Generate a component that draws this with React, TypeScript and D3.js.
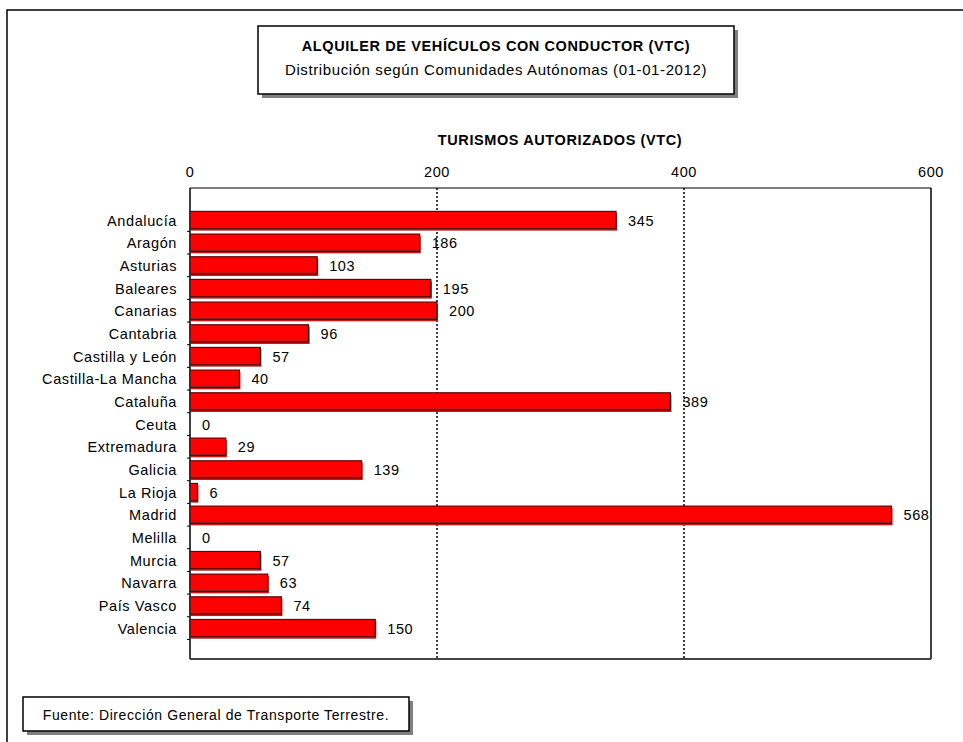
import React, { useRef, useEffect } from 'react';
import * as d3 from 'd3';

const regions = [
  'Andalucía', 'Aragón', 'Asturias', 'Baleares', 'Canarias', 'Cantabria',
  'Castilla y León', 'Castilla-La Mancha', 'Cataluña', 'Ceuta', 'Extremadura',
  'Galicia', 'La Rioja', 'Madrid', 'Melilla', 'Murcia', 'Navarra', 'País Vasco', 'Valencia',
];
const vehicles = [345, 186, 103, 195, 200, 96, 57, 40, 389, 0, 29, 139, 6, 568, 0, 57, 63, 74, 150];
const ticks = [0, 200, 400, 600];

const FONT = 'Liberation Sans, Arial, sans-serif';
const FS = 14.5;
const LS = 0.6;

const App: React.FC = () => {
  const svgRef = useRef<SVGSVGElement>(null);

  useEffect(() => {
    if (!svgRef.current) return;
    const svg = d3.select(svgRef.current);
    svg.selectAll('*').remove();

    const left = 190, right = 931, top = 188, bottom = 659;

    const txt = (xp: number, yp: number, s: string, anchor = 'middle', bold = false, size = FS) =>
      svg.append('text').attr('x', xp).attr('y', yp).attr('text-anchor', anchor)
        .attr('font-family', FONT).attr('font-size', size).attr('letter-spacing', LS)
        .attr('font-weight', bold ? 'bold' : 'normal').text(s);

    // outer frame (top + left only)
    svg.append('path')
      .attr('d', `M7,742 L7,10 L963,10`)
      .attr('fill', 'none')
      .attr('stroke', '#000')
      .attr('stroke-width', 1.5);

    // boxes with grey shadow
    const box = (x: number, y: number, w: number, h: number) => {
      svg.append('rect').attr('x', x + 4).attr('y', y + 4).attr('width', w).attr('height', h).attr('fill', '#808080');
      svg.append('rect').attr('x', x).attr('y', y).attr('width', w).attr('height', h)
        .attr('fill', '#fff').attr('stroke', '#000').attr('stroke-width', 1.5);
    };
    box(258, 26, 476, 68);
    txt(496, 51, 'ALQUILER DE VEHÍCULOS CON CONDUCTOR (VTC)', 'middle', true);
    txt(496, 75, 'Distribución según Comunidades Autónomas (01-01-2012)', 'middle', false, 15);

    box(23, 697, 386, 34);
    txt(216, 720, 'Fuente: Dirección General de Transporte Terrestre.', 'middle', false, 14);

    const x = d3.scaleLinear().domain([0, 600]).range([left, right]);
    const y = d3.scaleBand<string>().domain(regions).range([211.4, 636.7]).paddingInner(0.24).paddingOuter(0);

    // axis title
    txt(560, 145, 'TURISMOS AUTORIZADOS (VTC)', 'middle', true);

    // tick labels
    ticks.forEach(t => txt(x(t), 177, String(t)));

    // gridlines
    svg.selectAll('.grid').data(ticks.filter(t => t > 0 && t < 600)).enter().append('line')
      .attr('x1', d => x(d)).attr('x2', d => x(d)).attr('y1', top).attr('y2', bottom)
      .attr('stroke', '#000').attr('stroke-width', 1.5).attr('stroke-dasharray', '2,2');

    // plot frame
    svg.append('line').attr('x1', left).attr('x2', right).attr('y1', top).attr('y2', top).attr('stroke', '#000');
    svg.append('line').attr('x1', left).attr('x2', left).attr('y1', top).attr('y2', bottom).attr('stroke', '#000').attr('stroke-width', 1.5);
    svg.append('line').attr('x1', right).attr('x2', right).attr('y1', top).attr('y2', bottom).attr('stroke', '#000').attr('stroke-width', 1.5);
    svg.append('line').attr('x1', left).attr('x2', right).attr('y1', bottom).attr('y2', bottom).attr('stroke', '#444').attr('stroke-width', 2);

    // category ticks on left axis
    const step = y.step();
    svg.selectAll('.ytick').data(regions).enter().append('line')
      .attr('x1', left - 3).attr('x2', left)
      .attr('y1', d => (y(d) as number) + y.bandwidth() / 2 + step / 2)
      .attr('y2', d => (y(d) as number) + y.bandwidth() / 2 + step / 2)
      .attr('stroke', '#000');

    const data = regions.map((r, i) => ({ region: r, value: vehicles[i] }));

    const bars = svg.selectAll('.bar').data(data.filter(d => d.value > 0)).enter().append('g');
    bars.append('rect')
      .attr('x', x(0) + 1)
      .attr('y', d => (y(d.region) as number) + 2)
      .attr('width', d => x(d.value) - x(0))
      .attr('height', y.bandwidth())
      .attr('fill', '#ff0000');
    bars.append('rect')
      .attr('x', x(0))
      .attr('y', d => y(d.region) as number)
      .attr('width', d => x(d.value) - x(0))
      .attr('height', y.bandwidth())
      .attr('fill', '#ff0000')
      .attr('stroke', '#222')
      .attr('stroke-width', 1.2);

    data.forEach(d => {
      txt(x(d.value) + 12, (y(d.region) as number) + y.bandwidth() / 2 + 5.5, String(d.value), 'start');
      txt(177, (y(d.region) as number) + y.bandwidth() / 2 + 5.5, d.region, 'end');
    });
  }, []);

  return (
    <svg ref={svgRef} width={963} height={742} style={{ position: 'absolute', left: 0, top: 0, background: '#fff' }} />
  );
};

export default App;
